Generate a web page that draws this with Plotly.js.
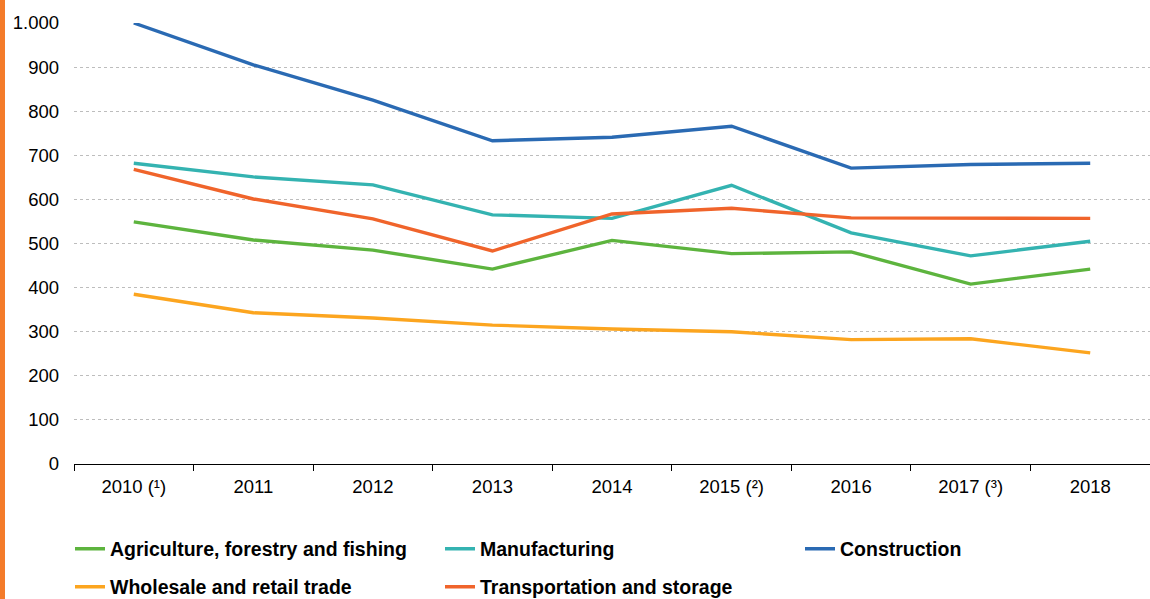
<!DOCTYPE html>
<html><head><meta charset="utf-8">
<script src="https://cdn.plot.ly/plotly-3.0.1.min.js"></script>
<style>
html,body{margin:0;padding:0;background:#fff;}
#wrap{position:relative;width:1150px;height:599px;}
#bar{position:absolute;left:0;top:0;width:5px;height:599px;background:#f47b2a;z-index:10;}
#chart{width:1150px;height:599px;}
</style></head>
<body><div id="wrap"><div id="bar"></div><div id="chart"></div></div>
<script>
const years = ["2010 (¹)","2011","2012","2013","2014","2015 (²)","2016","2017 (³)","2018"];
const agriculture = [549,508,485,442,507,477,481,408,442];
const manufacturing = [682,651,633,565,557,632,524,472,505];
const construction = [1000,905,825,733,741,766,671,679,682];
const wholesale = [385,343,331,315,306,300,282,284,252];
const transportation = [668,601,556,483,567,580,558,557,557];

const names = ["Agriculture, forestry and fishing","Manufacturing","Construction","Wholesale and retail trade","Transportation and storage"];
const series = [agriculture, manufacturing, construction, wholesale, transportation];
const colors = ["#5db43e","#34b3b1","#2a6ab3","#fca51f","#f0642b"];
const legendIds = ["legend","legend","legend3","legend2","legend2"];

const traces = series.map((s,i)=>({
  type:'scatter', mode:'lines', x:years, y:s, name:names[i],
  line:{color:colors[i], width:3.4}, legend:legendIds[i], cliponaxis:false,
  hoverinfo:'x+y'
}));

const font = {family:'"Liberation Sans", Arial, sans-serif', size:18.5, color:'#000'};
const legFont = {family:'"Liberation Sans", Arial, sans-serif', size:19.5, color:'#000', weight:'bold'};

const legendBase = {orientation:'h', xref:'container', yref:'container', x:70/1150,
    xanchor:'left', yanchor:'middle', entrywidth:325, entrywidthmode:'pixels', font:legFont,
    bgcolor:'rgba(0,0,0,0)', itemclick:false, itemdoubleclick:false};

const layout = {
  width:1150, height:599,
  margin:{l:74, r:0, t:23, b:135},
  paper_bgcolor:'#fff', plot_bgcolor:'#fff',
  separators:',.',
  font:font,
  showlegend:true,
  xaxis:{
    type:'category', range:[-0.5, 8.5], tickson:'boundaries', ticks:'outside', ticklen:6, tickcolor:'#000',
    showline:true, linecolor:'#000', linewidth:1, showgrid:false, zeroline:false,
    tickfont:font, ticklabelstandoff:6, fixedrange:true
  },
  yaxis:{
    range:[0,1000], dtick:100, tick0:0, tickformat:',d',
    showgrid:true, gridcolor:'#bdbdbd', griddash:'dot', gridwidth:1,
    zeroline:false, showline:false, ticks:'', tickfont:font, ticklabelstandoff:14, fixedrange:true
  },
  legend:Object.assign({}, legendBase, {y:1-549/599}),
  legend2:Object.assign({}, legendBase, {y:1-587/599}),
  legend3:Object.assign({}, legendBase, {x:800/1150, y:1-549/599})
};
Plotly.newPlot('chart', traces, layout, {displayModeBar:false});
</script></body></html>
